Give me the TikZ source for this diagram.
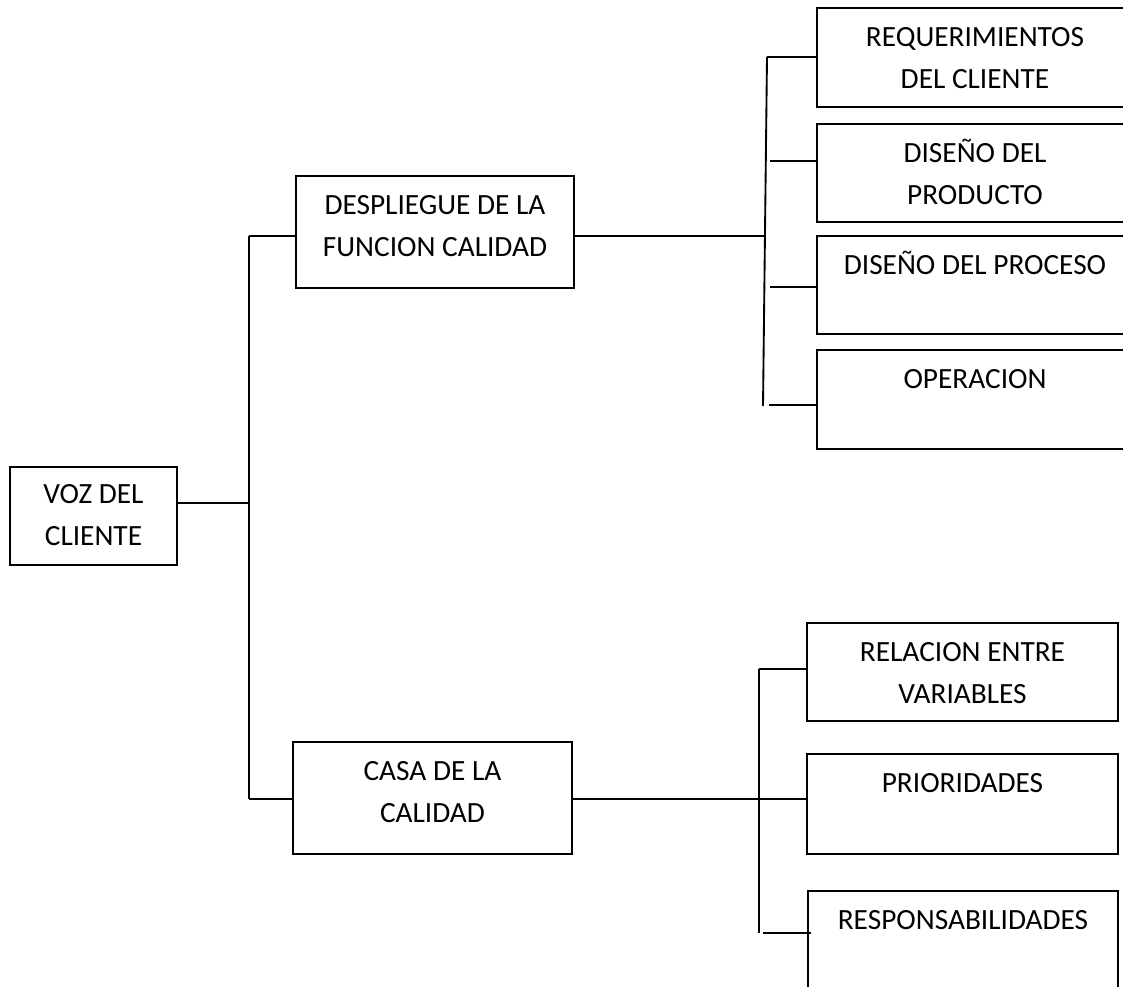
\documentclass[tikz,border=0pt]{standalone}
\usepackage{fontspec}
\setmainfont{Carlito}
\newcommand\boxfont{\fontsize{22}{31.5}\selectfont}
\begin{document}
\begin{tikzpicture}[x=0.75pt,y=-0.75pt,
  box/.style={draw, line width=1.4pt, inner sep=0pt, align=flush center, anchor=north, font=\boxfont, text height=29.25pt},
  conn/.style={line width=1.4pt}]
\useasboundingbox (0,0) rectangle (1123,987);
\clip (0,0) rectangle (1123,987);
% boxes
\node[box, text width=125.25pt, text height=27.75pt, text depth=45.75pt] (voz) at (93.5,466) {VOZ DEL\\CLIENTE};
\node[box, text width=208.5pt, text depth=54.75pt] (desp) at (435,175) {DESPLIEGUE DE LA\\FUNCION CALIDAD};
\node[box, text width=209.25pt, text depth=54.75pt] (casa) at (432.5,741) {CASA DE LA\\CALIDAD};
\node[box, text width=237pt, text depth=45pt] (req) at (975,7) {REQUERIMIENTOS\\DEL CLIENTE};
\node[box, text width=237pt, text depth=44.25pt] (dprod) at (975,123) {DISEÑO DEL\\PRODUCTO};
\node[box, text width=237pt, text depth=44.25pt] (dproc) at (975,235) {DISEÑO DEL PROCESO};
\node[box, text width=237pt, text depth=45pt] (oper) at (975,349) {OPERACION};
\node[box, text width=233.25pt, text depth=44.25pt] (rel) at (962.5,622) {RELACION ENTRE\\VARIABLES};
\node[box, text width=233.25pt, text depth=45.75pt] (prio) at (962.5,753) {PRIORIDADES};
\node[box, text width=232.5pt, text depth=46.5pt] (resp) at (963,890) {RESPONSABILIDADES};
% first-level connectors
\coordinate (j1) at (249,503);
\coordinate (j1t) at (249,236);
\coordinate (j1b) at (249,799);
\draw[conn] (voz.east |- j1) -- (j1);
\draw[conn] (j1t) -- (j1b);
\draw[conn] (j1t) -- ([xshift=1.5pt]desp.west |- j1t);
\draw[conn] (j1b) -- (casa.west |- j1b);
% upper group
\coordinate (j2) at (765,236);
\coordinate (j2t) at (767,57);
\coordinate (j2b) at (763,406);
\draw[conn] (desp.east |- j2) -- (j2);
\draw[conn] (j2t) -- (j2b);
\draw[conn] (j2t) -- (req.west |- j2t);
\coordinate (k2) at (770,161);
\draw[conn] (k2) -- (dprod.west |- k2);
\coordinate (k3) at (770,287);
\draw[conn] (k3) -- ([xshift=1.5pt]dproc.west |- k3);
\coordinate (k4) at (769,405);
\draw[conn] (k4) -- (oper.west |- k4);
% lower group
\coordinate (j3) at (759,799);
\coordinate (j3t) at (759,669);
\coordinate (j3b) at (759,933);
\draw[conn] (casa.east |- j3) -- (prio.west |- j3);
\draw[conn] (j3t) -- (j3b);
\draw[conn] (j3t) -- (rel.west |- j3t);
\coordinate (k5) at (763,933);
\draw[conn] (k5) -- ([xshift=3pt]resp.west |- k5);
\end{tikzpicture}
\end{document}
